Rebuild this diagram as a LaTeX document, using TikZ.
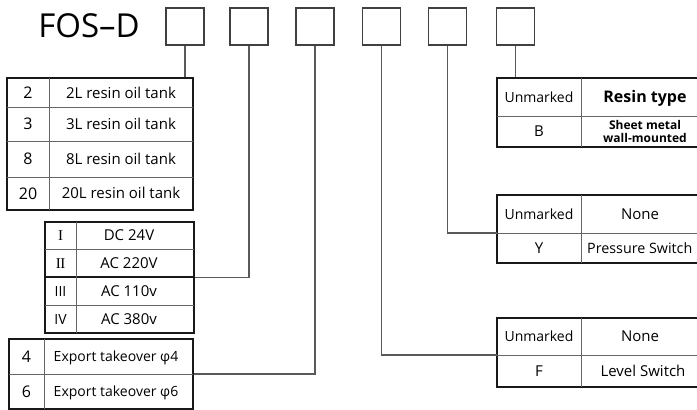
\documentclass[tikz,border=0pt]{standalone}
\usepackage{fontspec}
\setmainfont{Open Sans}
\newfontfamily\romanfont{Liberation Serif}
\begin{document}
\begin{tikzpicture}[x=1pt,y=-1pt,
  codebox/.style={draw=black!75,line width=1.6pt,minimum width=38pt,minimum height=37pt,inner sep=0pt},
  tbl/.style={draw=black!90,line width=1.8pt,inner sep=0pt},
  grid/.style={draw=black!60,line width=0.9pt},
  thickgrid/.style={draw=black!90,line width=1.8pt},
  conn/.style={draw=black!65,line width=1.2pt},
  cell/.style={inner sep=0pt,text depth=0pt,text=black,anchor=center},
  t15/.style={cell,font=\fontsize{15}{18}\selectfont,text height=10.7pt},
  t14/.style={cell,font=\fontsize{14}{17}\selectfont,text height=10pt},
  num/.style={cell,font=\fontsize{16}{19}\selectfont,text height=11.5pt},
  rom/.style={cell,font=\romanfont\fontsize{15}{18}\selectfont,text height=10pt},
  head/.style={cell,font=\bfseries\fontsize{16}{19}\selectfont,text height=11.5pt},
  small/.style={inner sep=0pt,text=black,align=center,font=\bfseries\fontsize{12}{13.5}\selectfont},
]
\useasboundingbox (0,0) rectangle (697,410);
\clip (0,0) rectangle (697,410);

% title
\node[cell,font=\fontsize{33}{33}\selectfont,text height=23pt] (title) at (89,26) {FOS–D};

% code boxes
\node[codebox] (b1) at (185,26.5) {};
\node[codebox] (b2) at (249,26.5) {};
\node[codebox] (b3) at (315,26.5) {};
\node[codebox] (b4) at (381.5,26.5) {};
\node[codebox] (b5) at (447.5,26.5) {};
\node[codebox] (b6) at (515.5,26.5) {};

% table 1: tank size
\node[tbl,minimum width=186pt,minimum height=132pt] (t1) at (100,144) {};
\draw[grid] (7,107) -- (193,107) (7,141) -- (193,141) (7,177) -- (193,177);
\draw[grid] (49,78) -- (49,210);
\node[num] (n2) at (28,93) {2};
\node[t15] (d2) at (121,93) {2L resin oil tank};
\node[num] (n3) at (28,124) {3};
\node[t15] (d3) at (121,124) {3L resin oil tank};
\node[num] (n8) at (28,159) {8};
\node[t15] (d8) at (121,159) {8L resin oil tank};
\node[num] (n20) at (28,193.5) {20};
\node[t15] (d20) at (121,193.5) {20L resin oil tank};

% table 2: voltage
\node[tbl,minimum width=149pt,minimum height=111pt] (t2) at (119.5,277.5) {};
\draw[grid] (45,249) -- (194,249) (45,305) -- (194,305);
\draw[thickgrid] (45,277) -- (194,277);
\draw[grid] (76,222) -- (76,333);
\node[rom] (v1) at (60.5,235.5) {I};
\node[t15] (vd1) at (129,235.5) {DC 24V};
\node[rom] (v2) at (60.5,263) {I\kern-0.5ptI};
\node[t15] (vd2) at (129,263) {AC 220V};
\node[t14] (v3) at (60.5,291) {III};
\node[t15] (vd3) at (129,291) {AC 110v};
\node[t14] (v4) at (60.5,319) {IV};
\node[t15] (vd4) at (129,319) {AC 380v};

% table 3: export takeover
\node[tbl,minimum width=184pt,minimum height=70pt] (t3) at (101,374) {};
\draw[grid] (9,374) -- (193,374);
\draw[grid] (44,339) -- (44,409);
\node[num] (e4) at (26.5,356.5) {4};
\node[t14] (ed4) at (116,356.5) {Export takeover φ4};
\node[num] (e6) at (26.5,391.5) {6};
\node[t14] (ed6) at (116,391.5) {Export takeover φ6};

% table B: resin type
\node[tbl,minimum width=208pt,minimum height=69pt] (tB) at (601,112.5) {};
\draw[grid] (497,116) -- (705,116);
\draw[grid] (581,78) -- (581,147);
\node[t14] (bu) at (539,97) {Unmarked};
\node[head] (bh) at (645,97) {Resin type};
\node[t15] (bb) at (539,131.5) {B};
\node[small] (bd) at (645,131.5) {Sheet metal\\wall-mounted};

% table Y: pressure switch
\node[tbl,minimum width=208pt,minimum height=68pt] (tY) at (601,229) {};
\draw[grid] (497,233) -- (705,233);
\draw[grid] (581,195) -- (581,263);
\coordinate (yjoin) at (497,233);
\node[t14] (yu) at (539,214) {Unmarked};
\node[t15] (yn) at (640,214) {None};
\node[t15] (yy) at (539,248) {Y};
\node[cell,font=\fontsize{14.3}{17}\selectfont,text height=10.2pt,anchor=west] (yd) at (587,248) {Pressure Switch};

% table F: level switch
\node[tbl,minimum width=208pt,minimum height=69pt] (tF) at (601,352.5) {};
\draw[grid] (497,355) -- (705,355);
\draw[grid] (581,318) -- (581,387);
\coordinate (fjoin) at (497,355);
\node[t14] (fu) at (539,336.5) {Unmarked};
\node[t15] (fn) at (640,336.5) {None};
\node[t15] (ff) at (539,371) {F};
\node[t15] (fd) at (643,371) {Level Switch};

% connectors
\draw[conn] (b1.south) -- (b1.south |- t1.north);
\draw[conn] (b2.south) |- (t2.east);
\draw[conn] (b3.south) |- (t3.east);
\draw[conn] (b4.south) |- (fjoin);
\draw[conn] (b5.south) |- (yjoin);
\draw[conn] (b6.south) -- (b6.south |- tB.north);
\end{tikzpicture}
\end{document}
